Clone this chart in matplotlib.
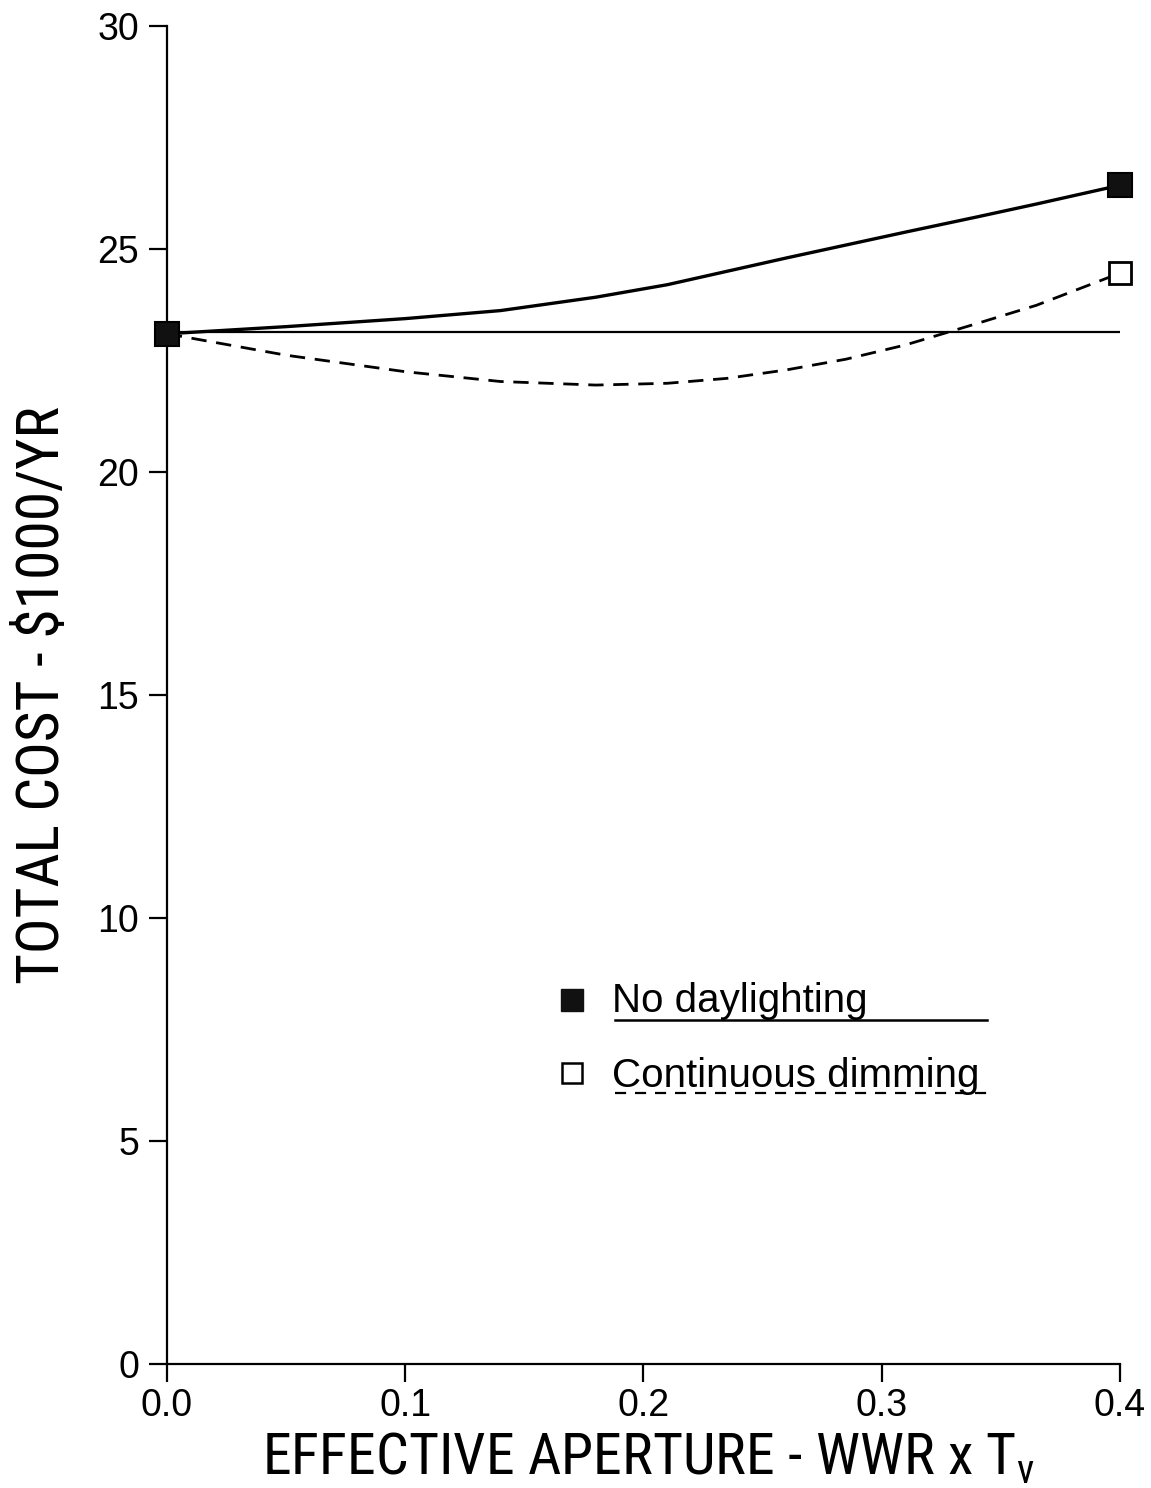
import os
import matplotlib
matplotlib.use("Agg")
import matplotlib.pyplot as plt
from matplotlib import font_manager
from matplotlib.font_manager import FontProperties

# Data: total annual cost ($1000/yr) versus effective aperture (WWR x Tv)
aperture = [0.0, 0.05, 0.10, 0.14, 0.18, 0.21, 0.235, 0.26, 0.285, 0.31, 0.34, 0.365, 0.40]
no_daylighting = [23.1, 23.26, 23.44, 23.62, 23.92, 24.2, 24.5, 24.8, 25.09, 25.38, 25.72, 26.01, 26.43]
continuous_dimming = [23.1, 22.62, 22.25, 22.03, 21.95, 21.99, 22.10, 22.29, 22.53, 22.85, 23.33, 23.74, 24.46]
base_x = [0.0, 0.40]
base_cost = [23.15, 23.15]

x_ticks = [0.0, 0.1, 0.2, 0.3, 0.4]
x_ticklabels = ["0.0", "0.1", "0.2", "0.3", "0.4"]
y_ticks = [0, 5, 10, 15, 20, 25, 30]
series_names = ["No daylighting", "Continuous dimming"]
x_title = "EFFECTIVE APERTURE - WWR x T$_\\mathregular{v}$"
y_title = "TOTAL COST - $1000/YR"


def condensed_sans():
    """Return the file of an installed condensed/narrow sans face, if any."""
    ranking = ["liberationsansnarrow", "robotocondensed", "notosans", "opensans",
               "dejavusans", "lato", "inter"]
    skip = ("bold", "italic", "oblique", "light", "thin", "medium", "black",
            "semibold", "extrabold", "mono", "serif", "heavy")
    found = []
    for entry in font_manager.fontManager.ttflist:
        base = os.path.basename(entry.fname).lower().replace("-", "").replace("_", "")
        if not ("condensed" in base or "narrow" in base):
            continue
        if any(s in base for s in skip) or entry.style != "normal":
            continue
        rank = next((i for i, r in enumerate(ranking) if base.startswith(r)), len(ranking))
        found.append((rank, entry.fname))
    found.sort()
    return found[0][1] if found else None


available = {f.name for f in font_manager.fontManager.ttflist}
main_font = "Liberation Sans" if "Liberation Sans" in available else "DejaVu Sans"
plt.rcParams["font.family"] = [main_font, "DejaVu Sans"]

narrow_file = condensed_sans()
if narrow_file:
    title_prop = FontProperties(fname=narrow_file, size=38)
else:
    title_prop = FontProperties(family=main_font, size=38)

fig = plt.figure(figsize=(11.51, 14.88), dpi=100)
ax = fig.add_axes([0.145, 0.0833, 0.828, 0.8992])

ax.plot(base_x, base_cost, color="black", lw=1.6, solid_capstyle="butt")
ax.plot(aperture, continuous_dimming, color="black", lw=2.0,
        linestyle=(0, (5.5, 3.5)), marker="s", markersize=16,
        markerfacecolor="white", markeredgecolor="black", markeredgewidth=2.0,
        markevery=[0, len(aperture) - 1], clip_on=False, zorder=3)
ax.plot(aperture, no_daylighting, color="black", lw=2.4,
        marker="s", markersize=17, markerfacecolor="#111111",
        markeredgecolor="black", markeredgewidth=1.5,
        markevery=[0, len(aperture) - 1], clip_on=False, zorder=4)

ax.set_xlim(0, 0.4)
ax.set_ylim(0, 30)
ax.set_xticks(x_ticks)
ax.set_xticklabels(x_ticklabels)
ax.set_yticks(y_ticks)

for side in ("top", "right"):
    ax.spines[side].set_visible(False)
for side in ("left", "bottom"):
    ax.spines[side].set_linewidth(1.6)

ax.tick_params(axis="both", direction="out", length=13, width=1.6,
               labelsize=27, colors="black")
ax.tick_params(axis="x", pad=4)
ax.tick_params(axis="y", pad=7)

xl = ax.set_xlabel(x_title, fontproperties=title_prop, va="center")
ax.xaxis.set_label_coords(0.505, -0.071)
yl = ax.set_ylabel(y_title, fontproperties=title_prop.copy(), va="center", ha="center")
ax.yaxis.set_label_coords(-0.131, 0.5)

# Size the axis titles so they span the intended lengths
fig.canvas.draw()
renderer = fig.canvas.get_renderer()
w = xl.get_window_extent(renderer).width
xl.set_fontsize(xl.get_fontsize() * 773.0 / w)
h = yl.get_window_extent(renderer).height
yl.set_fontsize(yl.get_fontsize() * 578.0 / h)

# Key: marker, label, and a line sample beneath each label
tr = ax.transAxes
ax.plot([0.425], [0.272], marker="s", markersize=16, color="#111111",
        transform=tr, clip_on=False)
ax.text(0.467, 0.263, series_names[0], transform=tr, fontsize=29,
        va="baseline", ha="left")
ax.plot([0.470, 0.861], [0.257, 0.257], color="black", lw=1.8,
        transform=tr, clip_on=False)

ax.plot([0.425], [0.2175], marker="s", markersize=15, markerfacecolor="white",
        markeredgecolor="black", markeredgewidth=1.8, transform=tr, clip_on=False)
ax.text(0.467, 0.207, series_names[1], transform=tr, fontsize=29,
        va="baseline", ha="left")
ax.plot([0.470, 0.861], [0.2026, 0.2026], color="black", lw=1.6,
        linestyle=(0, (5, 4)), transform=tr, clip_on=False)

fig.savefig("out.png", dpi=100, facecolor="white")
